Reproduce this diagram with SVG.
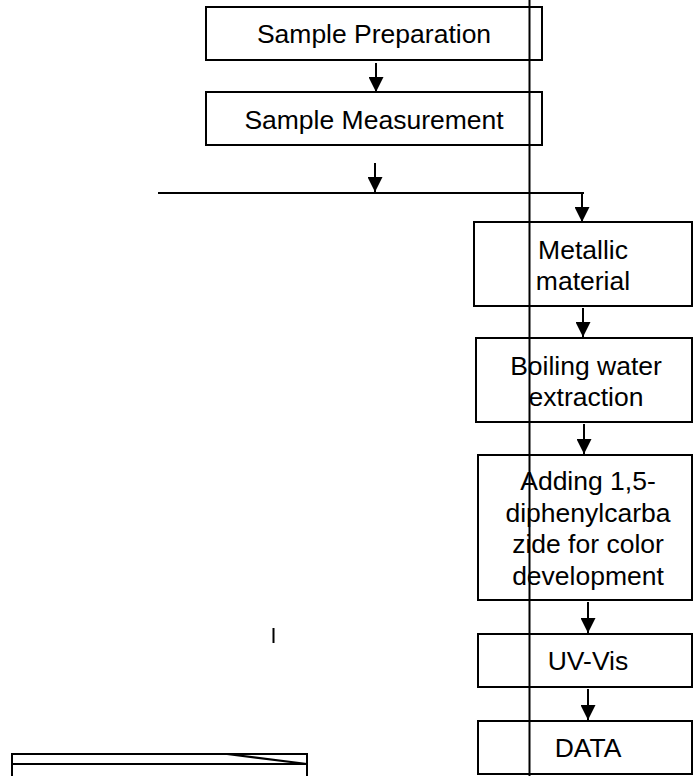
<svg xmlns="http://www.w3.org/2000/svg" width="693" height="776" viewBox="0 0 693 776">
<defs>
<marker id="ah" viewBox="0 0 10 10" refX="10" refY="5" markerWidth="15" markerHeight="15" markerUnits="userSpaceOnUse" orient="auto">
<path d="M0,0 L10,5 L0,10 Z" fill="#000"/>
</marker>
<style>
.box{fill:#fff;stroke:#000;stroke-width:2}
.t{font-family:"Liberation Sans",Arial,sans-serif;font-size:26.5px;fill:#000;text-anchor:middle}
.c{fill:none;stroke:#000;stroke-width:2}
</style>
</defs>
<rect width="693" height="776" fill="#fff"/>
<g id="n1"><rect class="box" x="206" y="7" width="336" height="53"/><text class="t" x="374" y="43">Sample Preparation</text></g>
<g id="n2"><rect class="box" x="206" y="92" width="336" height="53"/><text class="t" x="374" y="129">Sample Measurement</text></g>
<g id="n3"><rect class="box" x="474" y="222" width="218" height="84"/><text class="t" x="583" y="259">Metallic</text><text class="t" x="583" y="290">material</text></g>
<g id="n4"><rect class="box" x="476" y="338" width="216" height="84"/><text class="t" x="586" y="375">Boiling water</text><text class="t" x="586" y="406">extraction</text></g>
<g id="n5"><rect class="box" x="478" y="455" width="214" height="145"/><text class="t" x="588" y="490">Adding 1,5-</text><text class="t" x="588" y="522">diphenylcarba</text><text class="t" x="588" y="553">zide for color</text><text class="t" x="588" y="585">development</text></g>
<g id="n6"><rect class="box" x="478" y="634" width="214" height="53"/><text class="t" x="588" y="670">UV-Vis</text></g>
<g id="n7"><rect class="box" x="478" y="721" width="214" height="53"/><text class="t" x="588" y="757">DATA</text></g>
<g id="bottom-left">
<rect class="box" x="12" y="754" width="295" height="30"/>
<line class="c" x1="12" y1="764" x2="307" y2="764"/>
<line class="c" x1="227" y1="754" x2="307" y2="764"/>
</g>
<g id="connectors">
<line class="c" x1="376" y1="63" x2="376" y2="92" marker-end="url(#ah)"/>
<line class="c" x1="375" y1="163" x2="375" y2="192" marker-end="url(#ah)"/>
<line class="c" x1="158" y1="193" x2="584" y2="193"/>
<line class="c" x1="582" y1="193" x2="582" y2="222" marker-end="url(#ah)"/>
<line class="c" x1="583" y1="308" x2="583" y2="337" marker-end="url(#ah)"/>
<line class="c" x1="584" y1="424" x2="584" y2="454" marker-end="url(#ah)"/>
<line class="c" x1="588" y1="602" x2="588" y2="633" marker-end="url(#ah)"/>
<line class="c" x1="588" y1="689" x2="588" y2="720" marker-end="url(#ah)"/>
<line class="c" x1="273.5" y1="628" x2="273.5" y2="643"/>
<line x1="529.5" y1="0" x2="529.5" y2="776" stroke="#000" stroke-width="2"/>
</g>
</svg>
